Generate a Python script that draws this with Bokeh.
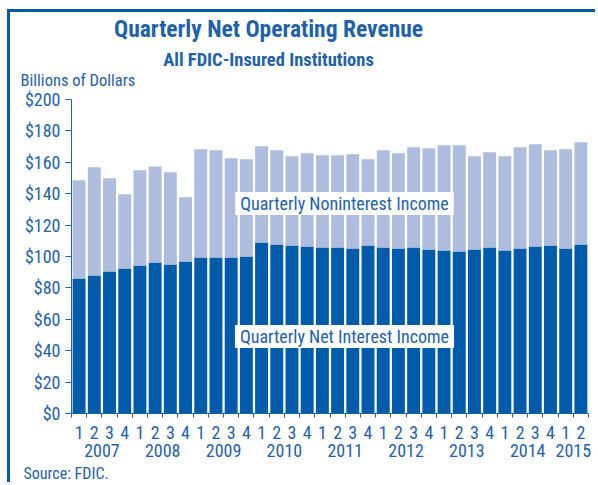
from bokeh.plotting import figure
from bokeh.models import (ColumnDataSource, FixedTicker, LinearAxis, Label, Range1d)
from bokeh.embed import file_html
from bokeh.resources import INLINE

# ---- data ----
years = ["2007", "2008", "2009", "2010", "2011", "2012", "2013", "2014", "2015"]
quarters = ["1", "2", "3", "4"] * 8 + ["1", "2"]
net_interest = [86.0, 87.9, 90.4, 92.3, 94.3, 96.2, 94.9, 96.8,
                99.4, 99.4, 99.4, 100.0, 108.9, 107.7, 107.0, 106.4,
                105.7, 105.7, 105.1, 107.0, 105.7, 105.1, 105.7, 104.5,
                103.8, 103.2, 104.5, 105.7, 103.8, 105.1, 106.4, 107.0,
                105.1, 107.7]
noninterest = [62.5, 68.9, 59.4, 47.3, 60.6, 61.2, 58.7, 40.9,
               68.9, 68.3, 63.2, 61.9, 61.3, 60.0, 56.8, 59.3,
               58.8, 58.8, 60.0, 54.9, 62.0, 60.6, 63.9, 64.4,
               67.1, 67.7, 59.3, 60.7, 60.0, 64.5, 65.1, 60.7,
               63.2, 65.1]
y_ticks = [0, 20, 40, 60, 80, 100, 120, 140, 160, 180, 200]
Y_MAX = 200

FONT = "Roboto Condensed"
TXT = "#1f62ab"
DARK = "#005baa"
LIGHT = "#aebcde"

n = len(net_interest)
xs = list(range(1, n + 1))
src = ColumnDataSource(dict(x=xs, nii=net_interest, nonint=noninterest))

# ---- layout (pixels inside the page) ----
W, H = 588, 473            # canvas, placed at page offset (10, 12)
OX, OY = 10, 12
PLOT_L, PLOT_R = 71, 588   # page px of value-axis and last bar edge
PLOT_T, PLOT_B = 99, 413   # page px of $200 and $0

xscale = (PLOT_R - PLOT_L) / n
x0 = 0.5 - (PLOT_L - OX) / xscale
x1 = x0 + W / xscale
yscale = (PLOT_B - PLOT_T) / Y_MAX
y1 = Y_MAX + (PLOT_T - OY) / yscale
y0 = y1 - H / yscale


def dx(px):
    return x0 + (px - OX) / xscale


def dy(py):
    return y1 - (py - OY) / yscale


p = figure(width=W, height=H, output_backend="svg", toolbar_location=None,
           x_range=Range1d(x0, x1), y_range=Range1d(y0, y1),
           min_border=0, x_axis_type=None, y_axis_type=None,
           styles={"margin-left": "7px", "margin-top": "9px",
                   "border-left": "3px solid #005baa", "border-top": "3px solid #005baa"})
p.outline_line_color = None
p.xgrid.visible = False
p.ygrid.visible = False

p.vbar_stack(["nii", "nonint"], x="x", width=0.85, source=src,
             color=[DARK, LIGHT], line_color=None)

# y axis
yax = LinearAxis(ticker=FixedTicker(ticks=y_ticks, minor_ticks=[]),
                 major_label_overrides={t: f"${t}" for t in y_ticks},
                 fixed_location=0.5, bounds=(0, Y_MAX))
yax.axis_line_color = TXT
yax.major_tick_line_color = TXT
yax.major_tick_out = 6
yax.major_tick_in = 0
yax.major_label_standoff = 5
yax.major_label_text_font = FONT
yax.major_label_text_font_size = "18px"
yax.major_label_text_color = TXT
p.add_layout(yax, "left")

# quarter axis
qax = LinearAxis(ticker=FixedTicker(ticks=xs, minor_ticks=[i + 0.5 for i in range(0, n + 1)]),
                 major_label_overrides={x: q for x, q in zip(xs, quarters)},
                 fixed_location=0, bounds=(0.5, n + 0.5))
qax.axis_line_color = TXT
qax.major_tick_line_color = None
qax.major_tick_out = 0
qax.major_tick_in = 0
qax.minor_tick_line_color = TXT
qax.minor_tick_out = 4
qax.minor_tick_in = 0
qax.major_label_standoff = 8
qax.major_label_text_font = FONT
qax.major_label_text_font_size = "18px"
qax.major_label_text_color = TXT
p.add_layout(qax, "below")

# year axis
year_pos = [2.5 + 4 * i for i in range(8)] + [33.5]
yrax = LinearAxis(ticker=FixedTicker(ticks=year_pos, minor_ticks=[]),
                  major_label_overrides={x: y for x, y in zip(year_pos, years)},
                  fixed_location=0)
yrax.axis_line_color = None
yrax.major_tick_line_color = None
yrax.major_tick_out = 0
yrax.major_tick_in = 0
yrax.major_label_standoff = 30
yrax.major_label_text_font = FONT
yrax.major_label_text_font_size = "18px"
yrax.major_label_text_color = TXT
p.add_layout(yrax, "below")

# in-chart labels
for txt, py in [("Quarterly Noninterest Income", 203), ("Quarterly Net Interest Income", 336)]:
    p.add_layout(Label(x=dx(344), y=dy(py), text=txt, text_align="center", text_baseline="middle",
                       text_font=FONT, text_font_size="18px", text_color=TXT,
                       background_fill_color="white", padding=dict(x=5, y=1)))

# titles and notes (y = vertical centre of the capitals, in page px)
p.add_layout(Label(x=dx(268), y=dy(28.5), text="Quarterly Net Operating Revenue",
                   text_align="center", text_baseline="middle", text_font=FONT,
                   text_font_style="bold", text_font_size="23.5px", text_color=TXT))
p.add_layout(Label(x=dx(268), y=dy(59.7), text="All FDIC-Insured Institutions",
                   text_align="center", text_baseline="middle", text_font=FONT,
                   text_font_style="bold", text_font_size="18.5px", text_color=TXT))
p.add_layout(Label(x=dx(20), y=dy(79.8), text="Billions of Dollars",
                   text_align="left", text_baseline="middle", text_font=FONT,
                   text_font_size="16.5px", text_color=TXT))
p.add_layout(Label(x=dx(23), y=dy(473.2), text="Source: FDIC.",
                   text_align="left", text_baseline="middle", text_font=FONT,
                   text_font_size="16px", text_color=TXT))

open("out.html", "w").write(file_html(p, INLINE))
